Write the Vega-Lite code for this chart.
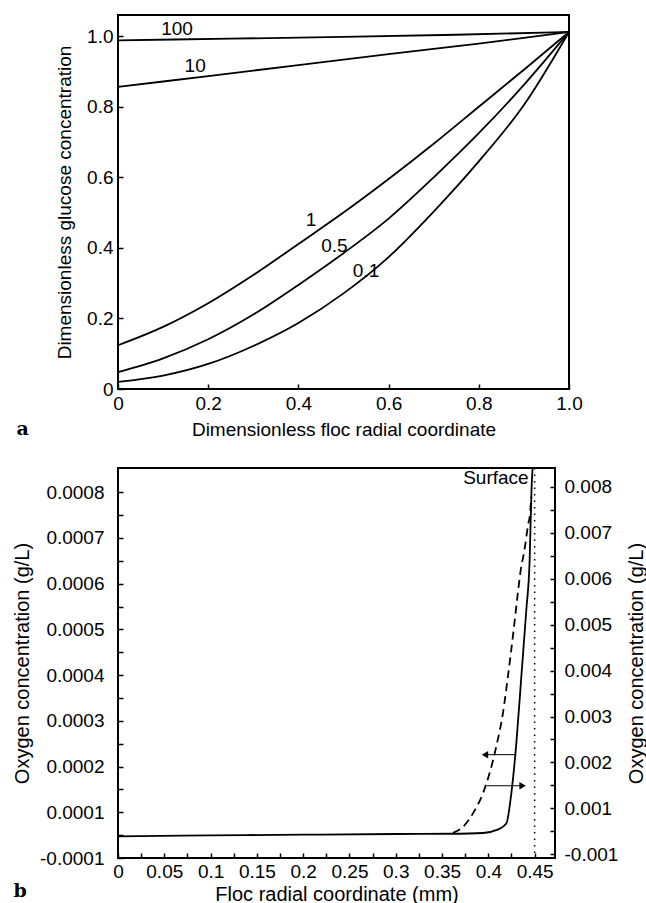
{
  "$schema": "https://vega.github.io/schema/vega-lite/v6.json",
  "padding": {"left": 11, "top": 14, "right": 0, "bottom": 0},
  "spacing": 23,
  "config": {
    "font": "Liberation Sans",
    "view": {"stroke": "black", "strokeWidth": 2},
    "axis": {
      "grid": false,
      "domain": false,
      "ticks": true,
      "tickColor": "black",
      "tickSize": -5,
      "tickWidth": 1.5,
      "labelColor": "black",
      "titleColor": "black",
      "labelFont": "Liberation Sans",
      "titleFont": "Liberation Sans",
      "labelFontSize": 19,
      "titleFontSize": 19,
      "titleFontWeight": "normal",
      "labelFlush": false,
      "labelOverlap": false,
      "labelBound": false
    }
  },
  "datasets": {
    "glucose": [
      {"curve": "100", "r": 0, "c": 0.988}, {"curve": "100", "r": 0.25, "c": 0.993}, {"curve": "100", "r": 0.5, "c": 0.998}, {"curve": "100", "r": 0.75, "c": 1.004}, {"curve": "100", "r": 1, "c": 1.012},
      {"curve": "10", "r": 0, "c": 0.856}, {"curve": "10", "r": 0.2, "c": 0.887}, {"curve": "10", "r": 0.4, "c": 0.918}, {"curve": "10", "r": 0.6, "c": 0.949}, {"curve": "10", "r": 0.8, "c": 0.979}, {"curve": "10", "r": 0.9, "c": 0.995}, {"curve": "10", "r": 1, "c": 1.012},
      {"curve": "1", "r": 0, "c": 0.124}, {"curve": "1", "r": 0.1, "c": 0.176}, {"curve": "1", "r": 0.2, "c": 0.243}, {"curve": "1", "r": 0.3, "c": 0.323}, {"curve": "1", "r": 0.4, "c": 0.411}, {"curve": "1", "r": 0.5, "c": 0.5}, {"curve": "1", "r": 0.6, "c": 0.595}, {"curve": "1", "r": 0.7, "c": 0.695}, {"curve": "1", "r": 0.8, "c": 0.8}, {"curve": "1", "r": 0.9, "c": 0.905}, {"curve": "1", "r": 1, "c": 1.012},
      {"curve": "0.5", "r": 0, "c": 0.048}, {"curve": "0.5", "r": 0.1, "c": 0.087}, {"curve": "0.5", "r": 0.2, "c": 0.141}, {"curve": "0.5", "r": 0.3, "c": 0.211}, {"curve": "0.5", "r": 0.4, "c": 0.295}, {"curve": "0.5", "r": 0.5, "c": 0.385}, {"curve": "0.5", "r": 0.6, "c": 0.483}, {"curve": "0.5", "r": 0.7, "c": 0.6}, {"curve": "0.5", "r": 0.8, "c": 0.725}, {"curve": "0.5", "r": 0.9, "c": 0.862}, {"curve": "0.5", "r": 1, "c": 1.012},
      {"curve": "0.1", "r": 0, "c": 0.02}, {"curve": "0.1", "r": 0.1, "c": 0.038}, {"curve": "0.1", "r": 0.2, "c": 0.071}, {"curve": "0.1", "r": 0.3, "c": 0.122}, {"curve": "0.1", "r": 0.4, "c": 0.187}, {"curve": "0.1", "r": 0.5, "c": 0.271}, {"curve": "0.1", "r": 0.6, "c": 0.374}, {"curve": "0.1", "r": 0.7, "c": 0.503}, {"curve": "0.1", "r": 0.8, "c": 0.645}, {"curve": "0.1", "r": 0.9, "c": 0.805}, {"curve": "0.1", "r": 1, "c": 1.012}
    ],
    "curveLabels": [
      {"label": "100", "r": 0.131, "c": 1.021},
      {"label": "10", "r": 0.171, "c": 0.915},
      {"label": "1", "r": 0.428, "c": 0.48},
      {"label": "0.5", "r": 0.48, "c": 0.405},
      {"label": "0.1", "r": 0.55, "c": 0.334}
    ],
    "oxygenLeft": [
      {"r": 0, "o2": 0.0000475}, {"r": 0.1, "o2": 0.0000495}, {"r": 0.2, "o2": 0.000051}, {"r": 0.3, "o2": 0.0000525}, {"r": 0.36, "o2": 0.000053}, {"r": 0.3942, "o2": 0.0000547}, {"r": 0.41, "o2": 0.000062}, {"r": 0.4194, "o2": 0.0000753}, {"r": 0.4248, "o2": 0.000141}, {"r": 0.4302, "o2": 0.00025}, {"r": 0.4356, "o2": 0.000396}, {"r": 0.441, "o2": 0.000542}, {"r": 0.4446, "o2": 0.000651}, {"r": 0.4467, "o2": 0.00081}, {"r": 0.4478, "o2": 0.000853}
    ],
    "oxygenRight": [
      {"r": 0.3618, "o2r": 0.000467}, {"r": 0.3726, "o2r": 0.000598}, {"r": 0.3834, "o2r": 0.000891}, {"r": 0.3942, "o2r": 0.00133}, {"r": 0.4014, "o2r": 0.00177}, {"r": 0.4086, "o2r": 0.00235}, {"r": 0.4158, "o2r": 0.00308}, {"r": 0.4212, "o2r": 0.00388}, {"r": 0.4266, "o2r": 0.00476}, {"r": 0.432, "o2r": 0.00571}, {"r": 0.4345, "o2r": 0.00612}, {"r": 0.4392, "o2r": 0.00665}, {"r": 0.4428, "o2r": 0.00716}, {"r": 0.4453, "o2r": 0.00746}, {"r": 0.4464, "o2r": 0.00779}
    ],
    "arrows": [
      {"tail": 0.4302, "head": 0.3964, "o2": 0.000226, "dir": "left"},
      {"tail": 0.3986, "head": 0.437, "o2": 0.000158, "dir": "right"}
    ],
    "surface": [
      {"r": 0.45, "o2": 0.000831, "label": "Surface"}
    ]
  },
  "vconcat": [
    {
      "width": 451,
      "height": 374,
      "title": {"text": "a", "orient": "bottom", "anchor": "start", "frame": "bounds", "font": "DejaVu Serif", "fontWeight": "bold", "fontSize": 19, "color": "black", "offset": -19, "dx": -39},
      "encoding": {
        "x": {"field": "r", "type": "quantitative", "scale": {"domain": [0, 1], "nice": false, "zero": false},
          "axis": {"values": [0, 0.2, 0.4, 0.6, 0.8, 1], "labelExpr": "datum.value == 0 ? '0' : format(datum.value, '.1f')", "title": "Dimensionless floc radial coordinate", "labelPadding": 10, "titlePadding": 7}},
        "y": {"field": "c", "type": "quantitative", "scale": {"domain": [0, 1.06], "nice": false},
          "axis": {"values": [0, 0.2, 0.4, 0.6, 0.8, 1], "labelExpr": "datum.value == 0 ? '0' : format(datum.value, '.1f')", "title": "Dimensionless glucose concentration", "labelPadding": 10, "titlePadding": 12}}
      },
      "layer": [
        {
          "data": {"name": "glucose"},
          "mark": {"type": "line", "interpolate": "monotone", "color": "black", "strokeWidth": 1.8},
          "encoding": {
            "detail": {"field": "curve"}
          }
        },
        {
          "data": {"name": "curveLabels"},
          "mark": {"type": "text", "fontSize": 19, "color": "black"},
          "encoding": {
            "text": {"field": "label"}
          }
        }
      ]
    },
    {
      "width": 437,
      "height": 390,
      "title": {"text": "b", "orient": "bottom", "anchor": "start", "frame": "bounds", "font": "DejaVu Serif", "fontWeight": "bold", "fontSize": 19, "color": "black", "offset": -22, "dx": 1},
      "resolve": {"scale": {"y": "independent"}},
      "encoding": {
        "x": {"field": "r", "type": "quantitative", "scale": {"domain": [0, 0.472], "nice": false},
          "axis": {"values": [0, 0.025, 0.05, 0.075, 0.1, 0.125, 0.15, 0.175, 0.2, 0.225, 0.25, 0.275, 0.3, 0.325, 0.35, 0.375, 0.4, 0.425, 0.45],
            "labelExpr": "round(datum.value * 1000) % 50 == 0 ? '' + datum.value : ''", "title": "Floc radial coordinate (mm)", "titleFontSize": 20, "labelPadding": 9, "titlePadding": 3}}
      },
      "layer": [
        {
          "encoding": {
            "y": {"field": "o2", "type": "quantitative", "scale": {"domain": [0, 0.000853], "nice": false},
              "axis": {"values": [0, 0.00005, 0.0001, 0.00015, 0.0002, 0.00025, 0.0003, 0.00035, 0.0004, 0.00045, 0.0005, 0.00055, 0.0006, 0.00065, 0.0007, 0.00075, 0.0008],
                "labelExpr": "datum.value == 0 ? '-0.0001' : (round(datum.value * 100000) % 10 == 0 ? format(datum.value, '.4f') : '')", "title": "Oxygen concentration (g/L)", "titleFontSize": 20, "labelPadding": 19, "titlePadding": 7}}
          },
          "layer": [
            {
              "data": {"name": "oxygenLeft"},
              "mark": {"type": "line", "interpolate": "monotone", "color": "black", "strokeWidth": 1.8}
            },
            {
              "data": {"name": "surface"},
              "mark": {"type": "rule", "color": "black", "strokeWidth": 1.5, "strokeDash": [1.5, 5]},
              "encoding": {
                "y": null
              }
            },
            {
              "data": {"name": "surface"},
              "mark": {"type": "text", "fontSize": 19, "color": "black", "align": "right", "baseline": "middle", "dx": -6},
              "encoding": {
                "text": {"field": "label"}
              }
            },
            {
              "data": {"name": "arrows"},
              "mark": {"type": "rule", "color": "black", "strokeWidth": 1},
              "encoding": {
                "x": {"field": "tail", "type": "quantitative"},
                "x2": {"field": "head"}
              }
            },
            {
              "data": {"name": "arrows"},
              "mark": {"type": "point", "filled": true, "color": "black", "opacity": 1, "size": 55},
              "encoding": {
                "x": {"field": "head", "type": "quantitative"},
                "shape": {"field": "dir", "type": "nominal", "scale": {"domain": ["left", "right"], "range": ["triangle-left", "triangle-right"]}, "legend": null}
              }
            }
          ]
        },
        {
          "data": {"name": "oxygenRight"},
          "mark": {"type": "line", "interpolate": "monotone", "color": "black", "strokeWidth": 1.8, "strokeDash": [8, 5]},
          "encoding": {
            "y": {"field": "o2r", "type": "quantitative", "scale": {"domain": [-0.00008, 0.00841], "nice": false, "zero": false},
              "axis": {"orient": "right", "values": [0, 0.0005, 0.001, 0.0015, 0.002, 0.0025, 0.003, 0.0035, 0.004, 0.0045, 0.005, 0.0055, 0.006, 0.0065, 0.007, 0.0075, 0.008],
                "labelExpr": "datum.value == 0 ? '-0.001' : (round(datum.value * 10000) % 10 == 0 ? format(datum.value, '.3f') : '')", "title": "Oxygen concentration (g/L)", "titleFontSize": 20, "titleAngle": 270, "titleBaseline": "top", "labelPadding": 14, "titlePadding": 9}}
          }
        }
      ]
    }
  ]
}
